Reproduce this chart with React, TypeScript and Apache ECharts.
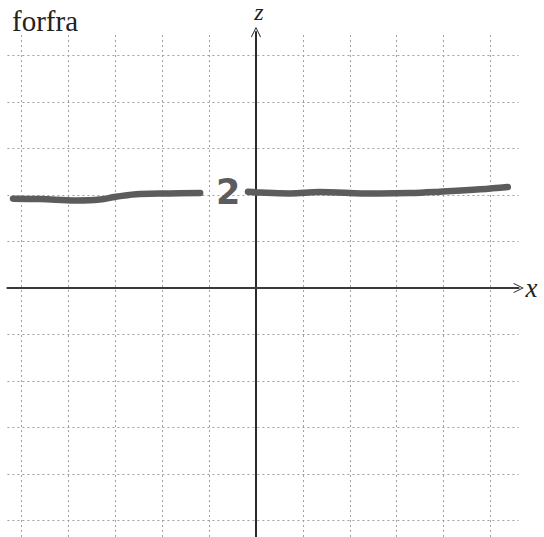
import React, { useEffect, useRef } from "react";
import * as echarts from "echarts";

// Grid of the squared paper (unit steps on both axes)
const gridX = [-5, -4, -3, -2, -1, 1, 2, 3, 4, 5];
const gridZ = [-5, -4, -3, -2, -1, 1, 2, 3, 4, 5];

// Hand-drawn trace of z = 2, left part (x, z)
const leftStroke: [number, number][] = [
  [-5.18, 1.92],
  [-4.6, 1.91],
  [-3.82, 1.88],
  [-3.33, 1.9],
  [-2.99, 1.96],
  [-2.47, 2.02],
  [-1.83, 2.03],
  [-1.19, 2.04],
];

// Hand-drawn trace of z = 2, right part (x, z)
const rightStroke: [number, number][] = [
  [-0.17, 2.07],
  [0.09, 2.05],
  [0.72, 2.03],
  [1.36, 2.06],
  [2.0, 2.04],
  [2.64, 2.03],
  [3.28, 2.04],
  [3.92, 2.07],
  [4.78, 2.12],
  [5.37, 2.17],
];

const levelLabel = "2";
const titleText = "forfra";

const arrowPath =
  "path://M0,12 L6,0 L12,12 L11,12.8 L6,2.6 L1,12.8 Z";

export default function App() {
  const ref = useRef<HTMLDivElement>(null);

  useEffect(() => {
    if (!ref.current) return;
    const chart = echarts.init(ref.current, undefined, { renderer: "svg" });
    const strokeColor = "#5c5c5c";
    const axisColor = "#2a2a2a";
    const gridLine = {
      color: "#a0a0a0",
      width: 1,
      type: [2, 3] as number[],
    };
    chart.setOption({
      animation: false,
      backgroundColor: "#ffffff",
      title: {
        text: titleText,
        left: 7,
        top: 1,
        textStyle: {
          fontFamily: "Liberation Serif",
          fontSize: 29,
          fontWeight: "normal",
          color: "#222",
        },
      },
      grid: {
        left: 7.4,
        right: 25.4,
        top: 28.3,
        bottom: 0,
        containLabel: false,
      },
      xAxis: {
        type: "value",
        min: -5.3,
        max: 5.6,
        z: 3,
        name: "x",
        nameLocation: "end",
        nameGap: 7,
        nameTextStyle: {
          fontFamily: "Liberation Serif",
          fontStyle: "italic",
          fontSize: 27,
          color: "#222",
          verticalAlign: "middle",
          padding: [0, 0, 4, 0],
        },
        axisLine: {
          show: true,
          onZero: true,
          symbol: ["none", arrowPath],
          symbolSize: [10, 12],
          lineStyle: { color: "#3a3a3a", width: 2 },
        },
        axisTick: { show: false },
        axisLabel: { show: false },
        splitLine: { show: false },
      },
      yAxis: {
        type: "value",
        min: -5.35,
        max: 5.5,
        z: 3,
        name: "z",
        nameLocation: "end",
        nameGap: 8,
        nameTextStyle: {
          fontFamily: "Liberation Serif",
          fontStyle: "italic",
          fontSize: 24,
          color: "#222",
          align: "center",
          padding: [0, 0, 0, 6],
        },
        axisLine: {
          show: true,
          onZero: true,
          symbol: ["none", arrowPath],
          symbolSize: [10, 12],
          lineStyle: { color: axisColor, width: 2 },
        },
        axisTick: { show: false },
        axisLabel: { show: false },
        splitLine: { show: false },
      },
      series: [
        {
          type: "line",
          data: [],
          z: 1,
          silent: true,
          markLine: {
            silent: true,
            symbol: ["none", "none"],
            label: { show: false },
            lineStyle: gridLine,
            data: [
              ...gridX.map((v) => ({ xAxis: v })),
              ...gridZ.map((v) => ({ yAxis: v })),
            ],
          },
        },
        {
          type: "line",
          data: leftStroke,
          smooth: 0.4,
          showSymbol: false,
          symbol: "none",
          z: 5,
          lineStyle: { color: strokeColor, width: 6.5, cap: "round" },
        },
        {
          type: "line",
          data: rightStroke,
          smooth: 0.4,
          showSymbol: false,
          symbol: "none",
          z: 5,
          lineStyle: { color: strokeColor, width: 6.5, cap: "round" },
        },
      ],
      graphic: [
        {
          type: "text",
          left: 216,
          top: 174,
          z: 10,
          style: {
            text: levelLabel,
            fontFamily: "DejaVu Sans",
            fontWeight: "bold",
            fontSize: 35,
            fill: strokeColor,
          },
        },
      ],
    });
    return () => chart.dispose();
  }, []);

  return (
    <div
      ref={ref}
      style={{ position: "absolute", left: 0, top: 0, width: 544, height: 537 }}
    />
  );
}
